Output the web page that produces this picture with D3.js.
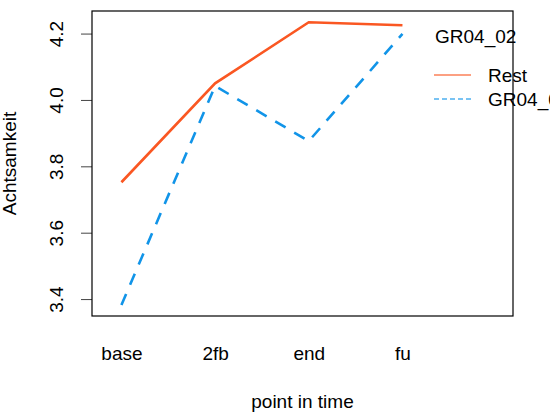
<!DOCTYPE html>
<html><head><meta charset="utf-8">
<script src="https://cdn.jsdelivr.net/npm/d3@7"></script>
<style>body{margin:0;background:#fff}svg{display:block}text{font-family:"Liberation Sans",Arial,sans-serif;fill:#000}</style>
</head><body>
<svg id="c" width="550" height="420"></svg>
<script>
const categories = ["base", "2fb", "end", "fu"];
const restValues = [3.752, 4.050, 4.234, 4.225];
const grValues = [3.382, 4.042, 3.876, 4.199];
const yTicks = [3.4, 3.6, 3.8, 4.0, 4.2];
const legendTitle = "GR04_02";
const seriesNames = ["Rest", "GR04_01"];

const svg = d3.select("#c");
const box = {l: 92, r: 513, t: 11, b: 316};
const x = d3.scaleLinear().domain([0.686, 5.18]).range([box.l, box.r]);
const y = d3.scaleLinear().domain([3.349, 4.268]).range([box.b, box.t]);
const idx = categories.map((c, i) => i + 1);

const clip = svg.append("defs").append("clipPath").attr("id", "pc")
  .append("rect").attr("x", box.l).attr("y", box.t).attr("width", box.r - box.l).attr("height", box.b - box.t);

const line = d3.line().x((d, i) => x(i + 1)).y(d => y(d));
const g = svg.append("g").attr("clip-path", "url(#pc)");
g.append("path").datum(restValues).attr("d", line).attr("fill", "none")
  .attr("stroke", "#FA5722").attr("stroke-width", 2.6);
g.append("path").datum(grValues).attr("d", line).attr("fill", "none")
  .attr("stroke", "#1194E8").attr("stroke-width", 2.6).attr("stroke-dasharray", "12,10");

// y axis
const yAxis = d3.axisLeft(y).tickValues(yTicks).tickSize(11).tickFormat(d3.format(".1f"));
const ya = svg.append("g").attr("transform", `translate(${box.l},0)`).call(yAxis);
ya.select(".domain").remove();
ya.selectAll(".tick line").attr("stroke", "#444").attr("stroke-width", 1);
ya.selectAll(".tick text").attr("x", null).attr("dy", null)
  .attr("transform", "translate(-29,0) rotate(-90)").attr("text-anchor", "middle")
  .style("font-size", "19px").attr("fill", "#000");

// x axis labels
const xAxis = d3.axisBottom(x).tickValues(idx).tickSize(0).tickFormat((d) => categories[d - 1]);
const xa = svg.append("g").attr("transform", `translate(0,${box.b})`).call(xAxis);
xa.select(".domain").remove();
xa.selectAll(".tick text").attr("y", 44).attr("dy", null).style("font-size", "19px").attr("fill", "#000");

// box
svg.append("rect").attr("x", box.l).attr("y", box.t).attr("width", box.r - box.l).attr("height", box.b - box.t)
  .attr("fill", "none").attr("stroke", "#000").attr("stroke-width", 1.2);

// axis titles
svg.append("text").attr("x", (box.l + box.r) / 2 + 0).attr("y", 408).attr("text-anchor", "middle")
  .style("font-size", "19px").text("point in time");
svg.append("text").attr("transform", `translate(16,${(box.t + box.b) / 2}) rotate(-90)`).attr("text-anchor", "middle")
  .style("font-size", "19px").text("Achtsamkeit");

// legend
const lg = svg.append("g");
lg.append("text").attr("x", 435).attr("y", 43).style("font-size", "19px").text(legendTitle);
const ly = [75, 99];
const cols = ["#FA5722", "#1194E8"];
seriesNames.forEach((n, i) => {
  lg.append("line").attr("x1", 434).attr("x2", 471).attr("y1", ly[i]).attr("y2", ly[i])
    .attr("stroke", cols[i]).attr("stroke-width", 1.4).attr("stroke-opacity", 0.75)
    .attr("stroke-dasharray", i === 1 ? "5,3" : null);
  lg.append("text").attr("x", 488).attr("y", ly[i] + 7).style("font-size", "19px").text(n);
});
</script>
</body></html>
